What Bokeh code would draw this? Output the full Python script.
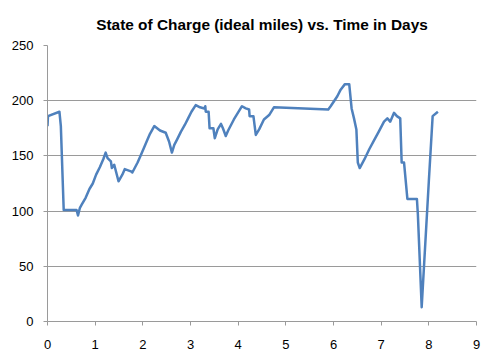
from bokeh.plotting import figure
from bokeh.models import Range1d, FixedTicker
from bokeh.embed import file_html
from bokeh.resources import INLINE

days = [0.00, 0.01, 0.25, 0.28, 0.34, 0.61, 0.64, 0.68, 0.72, 0.80, 0.88, 0.95, 1.02, 1.10, 1.17, 1.22,
        1.26, 1.33, 1.35, 1.40, 1.49, 1.57, 1.62, 1.75, 1.78, 1.89, 1.95, 2.02, 2.08, 2.15, 2.24,
        2.36, 2.48, 2.55, 2.61, 2.66, 2.72, 2.80, 2.88, 2.95, 3.02, 3.11, 3.20, 3.29, 3.31, 3.32,
        3.38, 3.40, 3.48, 3.51, 3.57, 3.64, 3.68, 3.74, 3.79, 3.91, 4.08, 4.16, 4.23, 4.24, 4.32,
        4.37, 4.44, 4.54, 4.65, 4.75, 5.89, 5.94, 6.08, 6.15, 6.24, 6.33, 6.38, 6.43, 6.48, 6.51,
        6.55, 6.65, 6.75, 6.85, 6.95, 7.06, 7.13, 7.19, 7.27, 7.33, 7.40, 7.43, 7.48, 7.55, 7.75,
        7.77, 7.85, 8.00, 8.08, 8.19]
miles = [177, 186, 190, 177, 101, 101, 96, 103, 106, 112, 120, 125, 133, 140, 147, 153,
         148, 145, 139, 142, 127, 133, 138, 136, 135, 144, 150, 157, 163, 170, 177,
         173, 171, 163, 153, 160, 165, 172, 178, 184, 190, 196, 194, 193, 195, 190,
         190, 175, 175, 166, 174, 179, 175, 168, 173, 183, 195, 193, 192, 186, 186,
         169, 174, 183, 187, 194, 192, 195, 204, 210, 215, 215, 193, 184, 174, 144,
         139, 147, 156, 164, 172, 181, 184, 181, 189, 186, 184, 144, 144, 111, 111,
         97, 13, 127, 186, 190]

x_ticks = [0, 1, 2, 3, 4, 5, 6, 7, 8, 9]
y_ticks = [0, 50, 100, 150, 200, 250]
title_text = "State of Charge (ideal miles) vs. Time in Days"

p = figure(width=483, height=355, output_backend="svg", toolbar_location=None,
           x_range=Range1d(0, 9), y_range=Range1d(0, 250),
           min_border_left=47, min_border_right=7, min_border_top=44, min_border_bottom=34,
           title=title_text)

p.title.align = "center"
p.title.text_font = "Liberation Sans"
p.title.text_font_size = "15.4px"
p.title.text_font_style = "bold"
p.title.text_color = "#000000"
p.title.standoff = 26

p.line(days, miles, line_color="#4F81BD", line_width=2.5, line_join="round")

grid_color = "#9a9a9a"
p.xgrid.grid_line_color = None
p.ygrid.grid_line_color = grid_color
p.ygrid.ticker = FixedTicker(ticks=y_ticks)
p.outline_line_color = None

for ax, ticks in ((p.xaxis[0], x_ticks), (p.yaxis[0], y_ticks)):
    ax.ticker = FixedTicker(ticks=ticks)
    ax.axis_line_color = grid_color
    ax.major_tick_line_color = grid_color
    ax.major_tick_out = 4
    ax.major_tick_in = 0
    ax.minor_tick_line_color = None
    ax.major_label_text_font = "Liberation Sans"
    ax.major_label_text_font_size = "13px"
    ax.major_label_text_color = "#000000"

p.yaxis.major_label_standoff = 10
p.xaxis.major_label_standoff = 14

open("out.html", "w").write(file_html(p, INLINE))
